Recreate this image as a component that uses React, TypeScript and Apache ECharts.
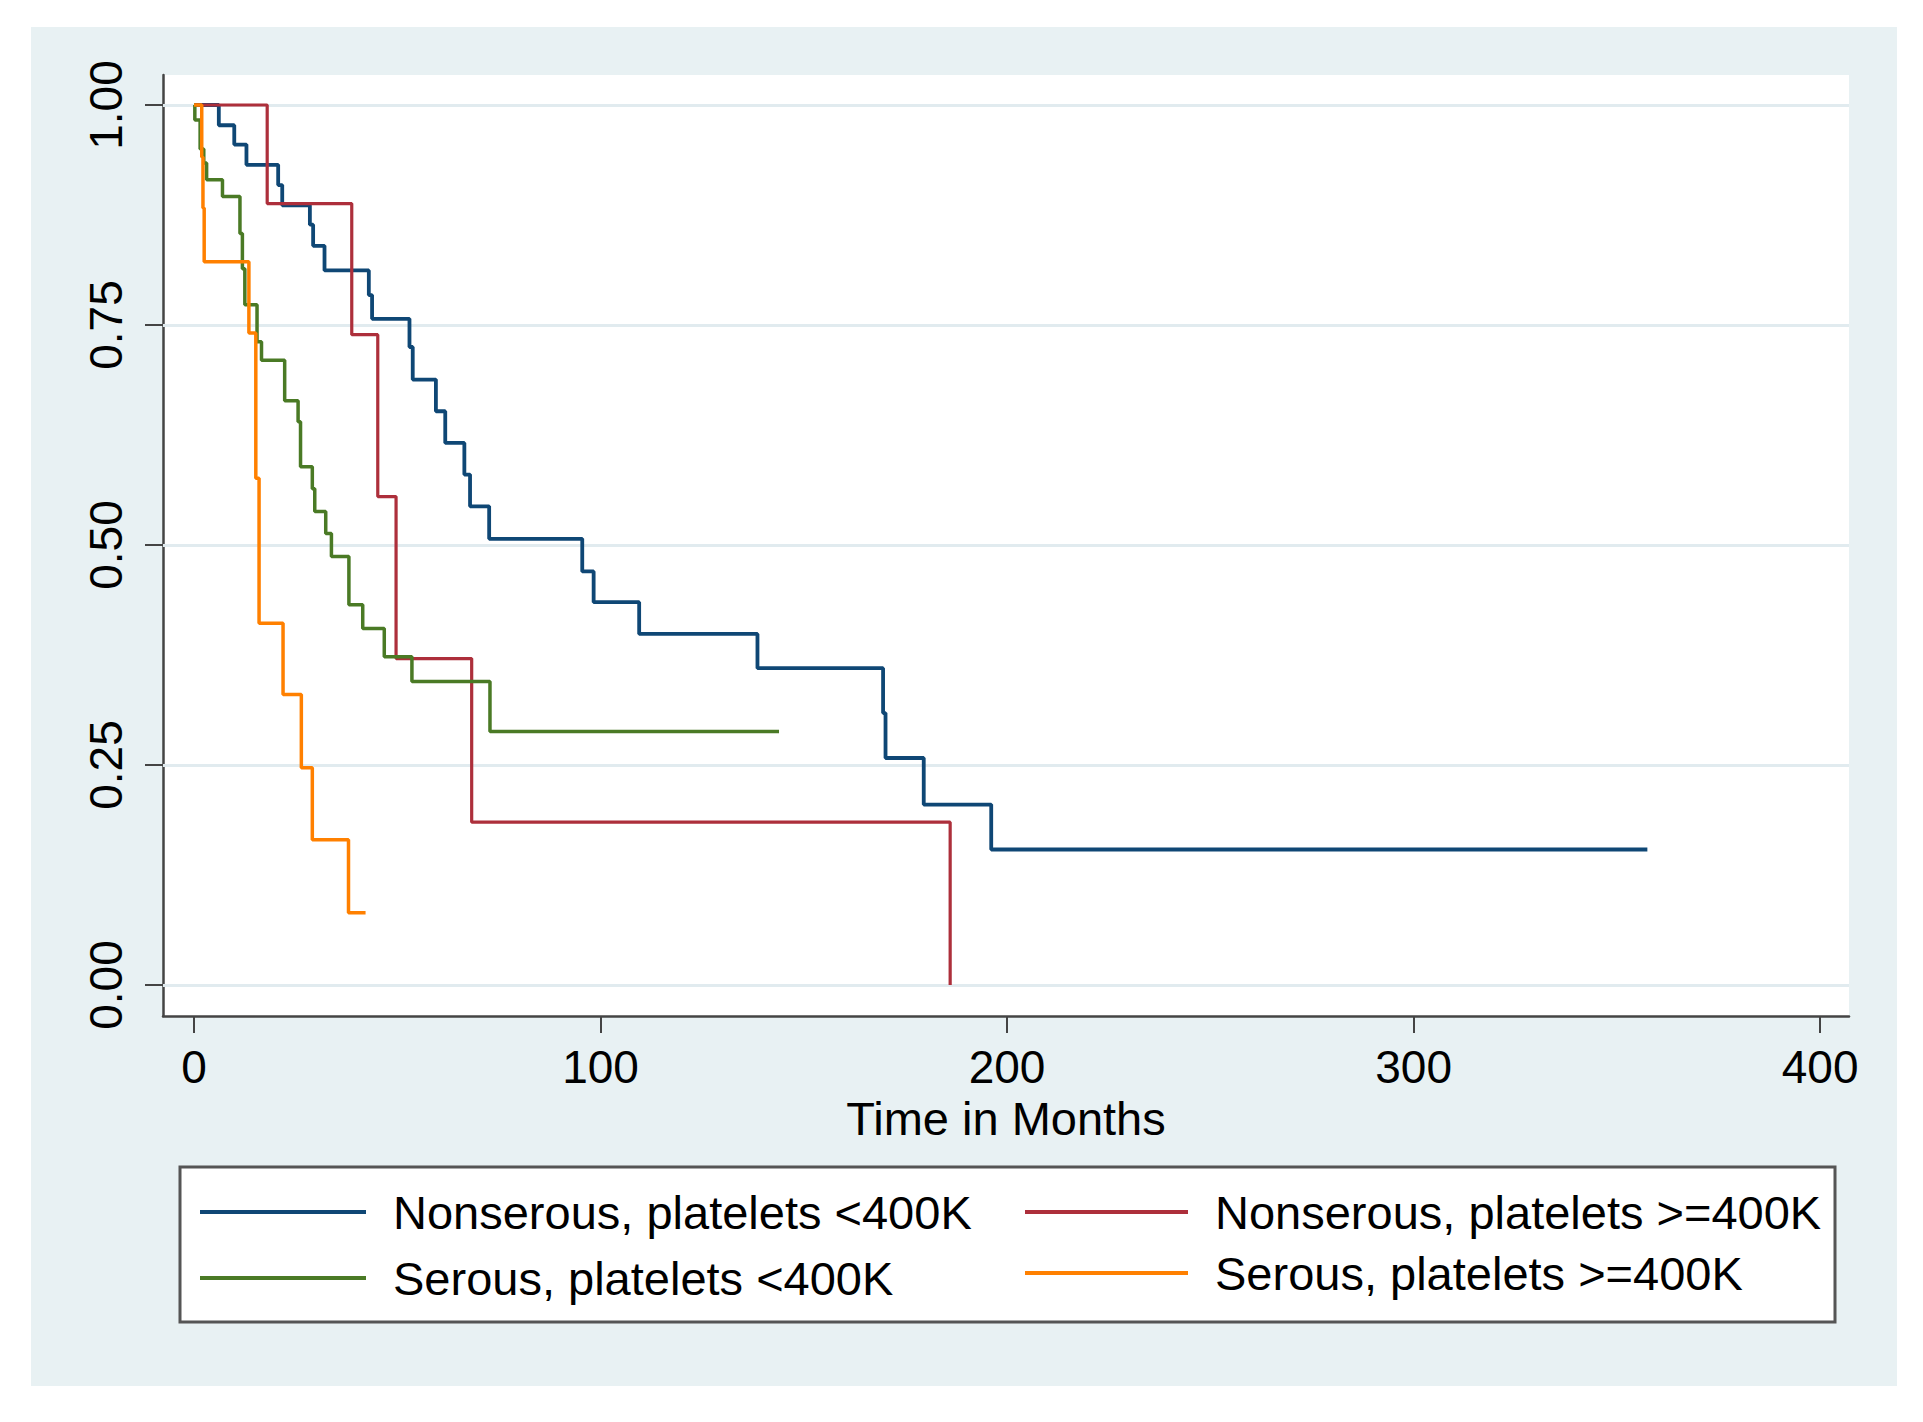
import React, { useEffect, useRef } from "react";
import * as echarts from "echarts";

// Kaplan-Meier step data (time in months, survival)
const blueTimes = [0, 6.1, 9.9, 12.9, 20.7, 21.7, 28.5, 29.3, 32.1, 43.0, 43.8, 53.0, 53.8, 59.5, 61.8, 66.5, 67.9, 72.6, 95.5, 98.3, 109.5, 138.6, 169.5, 170.1, 179.5, 196.1, 357.5];
const blueSurv = [1, 0.977, 0.955, 0.932, 0.909, 0.886, 0.864, 0.84, 0.812, 0.784, 0.757, 0.725, 0.688, 0.652, 0.616, 0.58, 0.544, 0.507, 0.47, 0.435, 0.399, 0.36, 0.309, 0.258, 0.205, 0.154, 0.154];

const redTimes = [0, 18.0, 38.8, 45.2, 49.7, 68.3, 186];
const redSurv = [1, 0.888, 0.739, 0.555, 0.371, 0.185, 0];

const greenTimes = [0, 0.2, 1.5, 2.4, 3.1, 7.0, 11.3, 11.9, 12.5, 15.5, 16.6, 22.3, 25.6, 26.2, 29.1, 29.7, 32.4, 33.8, 38.1, 41.5, 46.8, 53.6, 72.8, 143.9];
const greenSurv = [1, 0.983, 0.95, 0.934, 0.915, 0.896, 0.854, 0.814, 0.773, 0.731, 0.71, 0.664, 0.64, 0.589, 0.564, 0.538, 0.513, 0.487, 0.432, 0.405, 0.373, 0.345, 0.288, 0.288];

const orangeTimes = [0, 1.9, 2.2, 2.5, 13.5, 15.2, 16.0, 21.9, 26.4, 29.1, 38.0, 42.2];
const orangeSurv = [1, 0.941, 0.883, 0.822, 0.741, 0.576, 0.411, 0.33, 0.247, 0.165, 0.082, 0.082];

const seriesNames = [
  "Nonserous, platelets <400K",
  "Nonserous, platelets >=400K",
  "Serous, platelets <400K",
  "Serous, platelets >=400K",
];
const seriesColors = ["#0f4775", "#ad2f3b", "#4a7a25", "#ff8000"];
const seriesWidths = [3.8, 3.2, 3.5, 3.5];

const xTicks = [0, 100, 200, 300, 400];
const yTicks = [0, 0.25, 0.5, 0.75, 1];
const xTitle = "Time in Months";

const FONT = "'Liberation Sans', Arial, sans-serif";

function pairs(t: number[], s: number[]) {
  return t.map((v, i) => [v, s[i]]);
}

export default function App() {
  const ref = useRef<HTMLDivElement>(null);

  useEffect(() => {
    if (!ref.current) return;
    const chart = echarts.init(ref.current, undefined, { renderer: "svg" });
    const data = [
      pairs(blueTimes, blueSurv),
      pairs(redTimes, redSurv),
      pairs(greenTimes, greenSurv),
      pairs(orangeTimes, orangeSurv),
    ];

    const legendPos = [
      { left: 200, top: 1187, iw: 166 },
      { left: 1025, top: 1187, iw: 163 },
      { left: 200, top: 1253, iw: 166 },
      { left: 1025, top: 1248, iw: 163 },
    ];

    const option: any = {
      animation: false,
      backgroundColor: "#ffffff",
      graphic: [
        {
          type: "rect",
          z: -10,
          silent: true,
          shape: { x: 31, y: 27, width: 1866, height: 1359 },
          style: { fill: "#e8f1f3" },
        },
        {
          type: "rect",
          z: 3,
          silent: true,
          shape: { x: 180, y: 1167, width: 1655, height: 155 },
          style: { fill: "#ffffff", stroke: "#555555", lineWidth: 3 },
        },
      ],
      grid: {
        left: 163,
        right: 74,
        top: 75,
        bottom: 406,
        show: true,
        backgroundColor: "#ffffff",
        borderWidth: 0,
      },
      xAxis: {
        type: "value",
        min: -7.63,
        max: 407.1,
        name: xTitle,
        nameLocation: "middle",
        nameGap: 71,
        nameTextStyle: { fontFamily: FONT, fontSize: 47, color: "#000" },
        axisLine: { show: true, onZero: false, lineStyle: { color: "#444", width: 2.5 } },
        axisTick: { show: true, length: 17, lineStyle: { color: "#444", width: 2 }, customValues: xTicks },
        axisLabel: {
          fontFamily: FONT,
          fontSize: 46,
          color: "#000",
          margin: 28,
          customValues: xTicks,
          formatter: (v: number) => String(v),
        },
        splitLine: { show: false },
      },
      yAxis: {
        type: "value",
        min: -0.0352,
        max: 1.0341,
        axisLine: { show: true, onZero: false, lineStyle: { color: "#444", width: 2.5 } },
        axisTick: { show: true, length: 18, lineStyle: { color: "#444", width: 2 }, customValues: yTicks },
        axisLabel: {
          fontFamily: FONT,
          fontSize: 46,
          color: "#000",
          rotate: 90,
          margin: 34,
          customValues: yTicks,
          formatter: (v: number) => v.toFixed(2),
        },
        splitLine: { show: false },
      },
      legend: seriesNames.map((n, i) => ({
        data: [n],
        left: legendPos[i].left,
        top: legendPos[i].top,
        padding: 0,
        itemGap: 0,
        itemWidth: legendPos[i].iw,
        itemHeight: 4,
        icon: "rect",
        selectedMode: false,
        z: 5,
        textStyle: {
          fontFamily: FONT,
          fontSize: 47,
          color: "#000",
          lineHeight: 50,
          padding: [0, 0, 0, 22],
        },
      })),
      series: [
        {
          type: "line",
          name: "grid",
          data: [],
          z: 1,
          silent: true,
          markLine: {
            silent: true,
            z: 1,
            symbol: ["none", "none"],
            label: { show: false },
            lineStyle: { type: "solid", color: "#e1ebef", width: 3, opacity: 1 },
            emphasis: { disabled: true },
            data: yTicks.map((v) => ({ yAxis: v })),
          },
        },
        ...seriesNames.map((n, i) => ({
          type: "line",
          name: n,
          data: data[i],
          step: "end",
          showSymbol: false,
          symbol: "none",
          z: 10 + i,
          lineStyle: { color: seriesColors[i], width: seriesWidths[i] },
          itemStyle: { color: seriesColors[i] },
        })),
      ],
    };

    chart.setOption(option);
    return () => chart.dispose();
  }, []);

  return (
    <div
      ref={ref}
      style={{ position: "absolute", left: 0, top: 0, width: 1923, height: 1422 }}
    />
  );
}
